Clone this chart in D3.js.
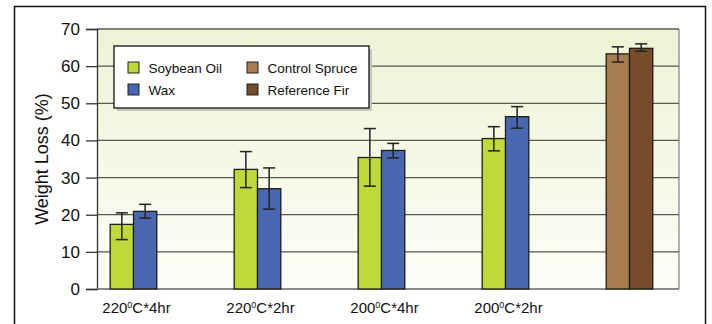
<!DOCTYPE html>
<html>
<head>
<meta charset="utf-8">
<script src="https://cdn.jsdelivr.net/npm/d3@7"></script>
<style>
  body { margin: 0; background: #fff; }
  svg { display: block; font-family: "Liberation Sans", Arial, sans-serif; }
</style>
</head>
<body>
<div id="chart"></div>
<script>
// categories and series
var groups = ['220C4', '220C2', '200C4', '200C2', 'control'];
var groupLabels = [['220', '0', 'C*4hr'], ['220', '0', 'C*2hr'], ['200', '0', 'C*4hr'], ['200', '0', 'C*2hr'], null];
var seriesNames = ['Soybean Oil', 'Wax', 'Control Spruce', 'Reference Fir'];
var seriesColors = ['#bfd83a', '#4966b0', '#a87b52', '#764c2b'];

// values per series, null where a group has no bar
var soybean   = [17.4, 32.2, 35.4, 40.5, null];
var wax       = [20.9, 27.0, 37.3, 46.4, null];
var spruce    = [null, null, null, null, 63.3];
var fir       = [null, null, null, null, 64.8];

// error bar ends (low, high)
var soybeanLo = [13.3, 27.3, 27.7, 37.2, null];
var soybeanHi = [20.5, 37.0, 43.2, 43.7, null];
var waxLo     = [19.1, 21.5, 35.3, 43.3, null];
var waxHi     = [22.8, 32.6, 39.2, 49.1, null];
var spruceLo  = [null, null, null, null, 61.1];
var spruceHi  = [null, null, null, null, 65.2];
var firLo     = [null, null, null, null, 64.0];
var firHi     = [null, null, null, null, 66.0];

var yTicks = [0, 10, 20, 30, 40, 50, 60, 70];

var W = 712, H = 324;
var margin = {top: 29, right: 33, bottom: 35, left: 97};
var width = W - margin.left - margin.right,
    height = H - margin.top - margin.bottom;

var svg = d3.select('#chart').append('svg')
    .attr('width', W)
    .attr('height', H);

// outer frame
svg.append('rect')
    .attr('x', 14.5).attr('y', 6.5)
    .attr('width', 691).attr('height', 340)
    .style('fill', 'none')
    .style('stroke', '#111')
    .style('stroke-width', 1.5);

var defs = svg.append('defs');
var grad = defs.append('linearGradient')
    .attr('id', 'bg').attr('x1', 0).attr('y1', 0).attr('x2', 0).attr('y2', 1);
grad.append('stop').attr('offset', '0%').attr('stop-color', '#eef3d5');
grad.append('stop').attr('offset', '100%').attr('stop-color', '#fdfdf8');

var g = svg.append('g')
    .attr('transform', 'translate(' + margin.left + ',' + margin.top + ')');

var y = d3.scaleLinear().domain([0, 70]).range([height, 0]);

// group centres (points) and bar offsets inside a group
var x = d3.scalePoint().domain(groups).range([36.5, 532.5]);
var barW = 23.3;

// plot background
g.append('rect')
    .attr('width', width).attr('height', height)
    .style('fill', 'url(#bg)');

// right border of plot area
g.append('line')
    .attr('x1', width).attr('x2', width)
    .attr('y1', 0).attr('y2', height)
    .style('stroke', '#999').style('stroke-width', 1.5);

// grid
g.selectAll('.grid')
    .data(yTicks.filter(function(d) { return d > 0; }))
    .enter().append('line')
    .attr('class', 'grid')
    .attr('x1', 0).attr('x2', width)
    .attr('y1', function(d) { return y(d); })
    .attr('y2', function(d) { return y(d); })
    .style('stroke', '#5a5a50')
    .style('stroke-width', 1.3);

// y axis
var yAxis = d3.axisLeft(y).tickValues(yTicks).tickSize(11).tickPadding(6);
var ya = g.append('g').call(yAxis);
ya.select('.domain').style('stroke', '#333').style('stroke-width', 1.3);
ya.selectAll('.tick line').style('stroke', '#333').style('stroke-width', 1.3);
ya.selectAll('.tick text')
    .style('font-size', '17px')
    .style('fill', '#111')
    .style('font-family', '"Liberation Sans", Arial, sans-serif');

// x axis line
g.append('line')
    .attr('x1', 0).attr('x2', width)
    .attr('y1', height).attr('y2', height)
    .style('stroke', '#666').style('stroke-width', 1.5);

// y title
svg.append('text')
    .attr('transform', 'translate(48,' + (margin.top + height / 2) + ') rotate(-90)')
    .attr('text-anchor', 'middle')
    .style('font-size', '18px')
    .style('fill', '#111')
    .text('Weight Loss (%)');

// bars: one slot per series drawn in the group
var series = [
    {name: seriesNames[0], color: seriesColors[0], values: soybean, lo: soybeanLo, hi: soybeanHi, slot: 0},
    {name: seriesNames[1], color: seriesColors[1], values: wax, lo: waxLo, hi: waxHi, slot: 1},
    {name: seriesNames[2], color: seriesColors[2], values: spruce, lo: spruceLo, hi: spruceHi, slot: 0},
    {name: seriesNames[3], color: seriesColors[3], values: fir, lo: firLo, hi: firHi, slot: 1}
];

series.forEach(function(s) {
    var pts = groups.map(function(k, i) {
        return {key: k, v: s.values[i], lo: s.lo[i], hi: s.hi[i]};
    }).filter(function(d) { return d.v !== null; });

    var bx = function(d) { return x(d.key) - barW + s.slot * barW; };

    g.selectAll(null)
        .data(pts)
        .enter().append('rect')
        .attr('x', bx)
        .attr('y', function(d) { return y(d.v); })
        .attr('width', barW)
        .attr('height', function(d) { return height - y(d.v); })
        .style('fill', s.color)
        .style('stroke', '#1e1e14')
        .style('stroke-width', 1.3);

    // error bars
    var eg = g.selectAll(null)
        .data(pts)
        .enter().append('g')
        .attr('transform', function(d) { return 'translate(' + (bx(d) + barW / 2) + ',0)'; });
    eg.append('line')
        .attr('y1', function(d) { return y(d.lo); })
        .attr('y2', function(d) { return y(d.hi); })
        .style('stroke', '#222').style('stroke-width', 1.5);
    eg.selectAll('.cap')
        .data(function(d) { return [d.lo, d.hi]; })
        .enter().append('line')
        .attr('x1', -6).attr('x2', 6)
        .attr('y1', function(d) { return y(d); })
        .attr('y2', function(d) { return y(d); })
        .style('stroke', '#222').style('stroke-width', 1.5);
});

// x labels with superscript degree zero
groups.forEach(function(k, i) {
    var lab = groupLabels[i];
    if (!lab) return;
    var t = g.append('text')
        .attr('x', x(k) + 3)
        .attr('y', height + 24)
        .attr('text-anchor', 'middle')
        .style('font-size', '15px')
        .style('fill', '#111');
    t.append('tspan').text(lab[0]);
    t.append('tspan').attr('dy', -5).style('font-size', '9px').text(lab[1]);
    t.append('tspan').attr('dy', 5).text(lab[2]);
});

// legend
var lg = svg.append('g').attr('transform', 'translate(114,46)');
lg.append('rect')
    .attr('x', 3).attr('y', 3).attr('width', 255).attr('height', 62)
    .style('fill', '#c8c8c0');
lg.append('rect')
    .attr('width', 255).attr('height', 62)
    .style('fill', '#fff')
    .style('stroke', '#111')
    .style('stroke-width', 1.3);

var items = lg.selectAll('.item')
    .data(seriesNames)
    .enter().append('g')
    .attr('transform', function(d, i) {
        return 'translate(' + (i < 2 ? 14 : 133) + ',' + (i % 2 === 0 ? 16 : 38) + ')';
    });
items.append('rect')
    .attr('width', 11).attr('height', 11)
    .style('fill', function(d, i) { return seriesColors[i]; })
    .style('stroke', '#222')
    .style('stroke-width', 1);
items.append('text')
    .attr('x', 20.5).attr('y', 10.5)
    .style('font-size', '13.5px')
    .style('fill', '#111')
    .text(function(d) { return d; });
</script>
</body>
</html>
